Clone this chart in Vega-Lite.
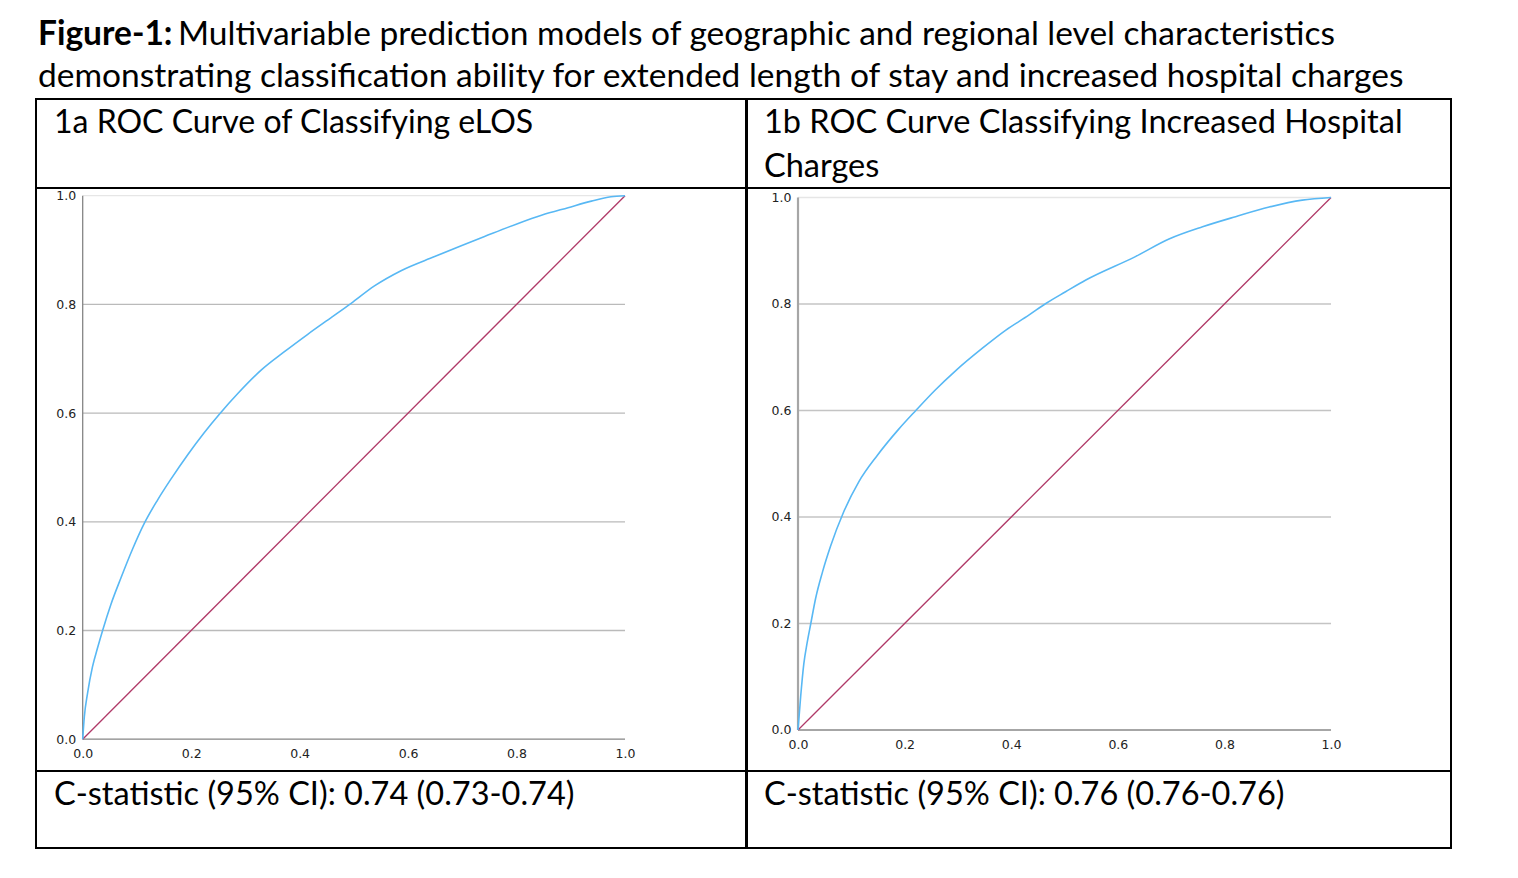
{
  "$schema": "https://vega.github.io/schema/vega-lite/v6.json",
  "background": "white",
  "padding": {"left": 35, "top": 0, "right": 0, "bottom": 0},
  "config": {
    "view": {"stroke": "black", "strokeWidth": 2},
    "text": {"font": "Lato", "fontSize": 32.5, "color": "black"}
  },
  "datasets": {
    "rocA": [
      {"fpr": 0, "tpr": 0}, {"fpr": 0.003, "tpr": 0.041}, {"fpr": 0.009, "tpr": 0.085}, {"fpr": 0.018, "tpr": 0.133},
      {"fpr": 0.028, "tpr": 0.17}, {"fpr": 0.037, "tpr": 0.201}, {"fpr": 0.052, "tpr": 0.248}, {"fpr": 0.071, "tpr": 0.298},
      {"fpr": 0.092, "tpr": 0.35}, {"fpr": 0.114, "tpr": 0.398}, {"fpr": 0.138, "tpr": 0.44}, {"fpr": 0.163, "tpr": 0.479},
      {"fpr": 0.194, "tpr": 0.524}, {"fpr": 0.224, "tpr": 0.564}, {"fpr": 0.252, "tpr": 0.598}, {"fpr": 0.286, "tpr": 0.636},
      {"fpr": 0.329, "tpr": 0.679}, {"fpr": 0.372, "tpr": 0.713}, {"fpr": 0.415, "tpr": 0.745}, {"fpr": 0.46, "tpr": 0.777},
      {"fpr": 0.495, "tpr": 0.802}, {"fpr": 0.538, "tpr": 0.834}, {"fpr": 0.587, "tpr": 0.862}, {"fpr": 0.649, "tpr": 0.888},
      {"fpr": 0.698, "tpr": 0.908}, {"fpr": 0.741, "tpr": 0.925}, {"fpr": 0.803, "tpr": 0.949}, {"fpr": 0.846, "tpr": 0.964},
      {"fpr": 0.895, "tpr": 0.978}, {"fpr": 0.938, "tpr": 0.99}, {"fpr": 0.974, "tpr": 0.998}, {"fpr": 1, "tpr": 1}
    ],
    "rocB": [
      {"fpr": 0, "tpr": 0}, {"fpr": 0.005, "tpr": 0.063}, {"fpr": 0.011, "tpr": 0.125}, {"fpr": 0.017, "tpr": 0.163},
      {"fpr": 0.024, "tpr": 0.2}, {"fpr": 0.033, "tpr": 0.247}, {"fpr": 0.046, "tpr": 0.297}, {"fpr": 0.061, "tpr": 0.345},
      {"fpr": 0.085, "tpr": 0.408}, {"fpr": 0.114, "tpr": 0.466}, {"fpr": 0.149, "tpr": 0.516}, {"fpr": 0.189, "tpr": 0.565},
      {"fpr": 0.221, "tpr": 0.6}, {"fpr": 0.258, "tpr": 0.639}, {"fpr": 0.296, "tpr": 0.675}, {"fpr": 0.346, "tpr": 0.717},
      {"fpr": 0.39, "tpr": 0.751}, {"fpr": 0.433, "tpr": 0.779}, {"fpr": 0.465, "tpr": 0.801}, {"fpr": 0.502, "tpr": 0.823},
      {"fpr": 0.54, "tpr": 0.845}, {"fpr": 0.633, "tpr": 0.889}, {"fpr": 0.696, "tpr": 0.922}, {"fpr": 0.759, "tpr": 0.945},
      {"fpr": 0.821, "tpr": 0.964}, {"fpr": 0.884, "tpr": 0.982}, {"fpr": 0.946, "tpr": 0.995}, {"fpr": 1, "tpr": 1}
    ],
    "diag": [{"fpr": 0, "tpr": 0}, {"fpr": 1, "tpr": 1}],
    "grid": [{"v": 0.2}, {"v": 0.4}, {"v": 0.6}, {"v": 0.8}, {"v": 1.0}],
    "one": [{"k": 1}]
  },
  "vconcat": [
    {
      "width": 1414,
      "height": 99,
      "view": {"stroke": null},
      "encoding": {
        "x": {"datum": 0, "type": "quantitative", "scale": {"domain": [0, 1]}, "axis": null},
        "y": {"datum": 1, "type": "quantitative", "scale": {"domain": [0, 1]}, "axis": null}
      },
      "layer": [
        {
          "data": {"values": [{"t": "Figure-1:"}]},
          "mark": {"type": "text", "align": "left", "baseline": "alphabetic", "fontWeight": "bold", "fontSize": 33.5, "dx": 2, "dy": 45},
          "encoding": {"text": {"field": "t"}}
        },
        {
          "data": {"values": [{"t": "Multivariable prediction models of geographic and regional level characteristics"}]},
          "mark": {"type": "text", "align": "left", "baseline": "alphabetic", "fontSize": 33.5, "dx": 142, "dy": 45},
          "encoding": {"text": {"field": "t"}}
        },
        {
          "data": {"values": [{"t": "demonstrating classification ability for extended length of stay and increased hospital charges"}]},
          "mark": {"type": "text", "align": "left", "baseline": "alphabetic", "fontSize": 33.5, "dx": 2, "dy": 87},
          "encoding": {"text": {"field": "t"}}
        }
      ]
    },
    {
      "hconcat": [
        {
          "vconcat": [
            {
              "width": 710,
              "height": 89,
              "data": {"values": [{"t": "1a ROC Curve of Classifying eLOS"}]},
              "mark": {"type": "text", "align": "left", "baseline": "alphabetic", "fontSize": 32, "dx": 18, "dy": 34},
              "encoding": {
                "text": {"field": "t"},
                "x": {"datum": 0, "type": "quantitative", "scale": {"domain": [0, 1]}, "axis": null},
                "y": {"datum": 1, "type": "quantitative", "scale": {"domain": [0, 1]}, "axis": null}
              }
            },
            {
              "width": 710,
              "height": 583,
              "layer": [
                {
                  "data": {"name": "grid"},
                  "mark": {"type": "rule", "strokeWidth": 1.3},
                  "encoding": {
                    "y": {"field": "v", "type": "quantitative", "scale": {"domain": [-0.0585, 1.01417], "nice": false, "zero": false},
                      "axis": {"orient": "left", "offset": -46.7, "values": [0, 0.2, 0.4, 0.6, 0.8, 1], "format": ".1f", "domain": false, "ticks": false, "tickSize": 0, "grid": false, "labelPadding": 7, "labelFont": "DejaVu Sans", "labelFontSize": 12.5, "labelColor": "#222", "title": null, "labelFlush": false, "labelOverlap": false}},
                    "x": {"datum": 0, "type": "quantitative", "scale": {"domain": [-0.0861, 1.2231], "nice": false, "zero": false},
                      "axis": {"orient": "bottom", "offset": -31.8, "values": [0, 0.2, 0.4, 0.6, 0.8, 1], "format": ".1f", "domain": false, "ticks": false, "tickSize": 0, "grid": false, "labelPadding": 8, "labelFont": "DejaVu Sans", "labelFontSize": 12.5, "labelColor": "#222", "title": null, "labelFlush": false, "labelOverlap": false}},
                    "x2": {"datum": 1},
                    "color": {"condition": {"test": "datum.v == 1", "value": "#e6e6e6"}, "value": "#bababa"}
                  }
                },
                {
                  "data": {"name": "one"},
                  "mark": {"type": "rule", "color": "#858585", "strokeWidth": 1.3},
                  "encoding": {
                    "x": {"datum": 0, "type": "quantitative"},
                    "y": {"datum": 0, "type": "quantitative"},
                    "y2": {"datum": 1}
                  }
                },
                {
                  "data": {"name": "one"},
                  "mark": {"type": "rule", "color": "#858585", "strokeWidth": 1.3},
                  "encoding": {
                    "x": {"datum": 0, "type": "quantitative"},
                    "x2": {"datum": 1},
                    "y": {"datum": 0, "type": "quantitative"}
                  }
                },
                {
                  "data": {"name": "diag"},
                  "mark": {"type": "line", "color": "#b03a68", "strokeWidth": 1.3},
                  "encoding": {
                    "x": {"field": "fpr", "type": "quantitative"},
                    "y": {"field": "tpr", "type": "quantitative"}
                  }
                },
                {
                  "data": {"name": "rocA"},
                  "mark": {"type": "line", "color": "#58b8f4", "strokeWidth": 1.6, "interpolate": "monotone"},
                  "encoding": {
                    "x": {"field": "fpr", "type": "quantitative"},
                    "y": {"field": "tpr", "type": "quantitative"}
                  }
                }
              ]
            },
            {
              "width": 710,
              "height": 77,
              "data": {"values": [{"t": "C-statistic (95% CI): 0.74 (0.73-0.74)"}]},
              "mark": {"type": "text", "align": "left", "baseline": "alphabetic", "dx": 18, "dy": 34},
              "encoding": {
                "text": {"field": "t"},
                "x": {"datum": 0, "type": "quantitative", "scale": {"domain": [0, 1]}, "axis": null},
                "y": {"datum": 1, "type": "quantitative", "scale": {"domain": [0, 1]}, "axis": null}
              }
            }
          ],
          "spacing": 0,
          "bounds": "flush"
        },
        {
          "vconcat": [
            {
              "width": 704,
              "height": 89,
              "data": {"values": [{"t": "1b ROC Curve Classifying Increased Hospital\nCharges"}]},
              "mark": {"type": "text", "align": "left", "baseline": "alphabetic", "lineBreak": "\n", "lineHeight": 44, "dx": 17, "dy": 34},
              "encoding": {
                "text": {"field": "t"},
                "x": {"datum": 0, "type": "quantitative", "scale": {"domain": [0, 1]}, "axis": null},
                "y": {"datum": 1, "type": "quantitative", "scale": {"domain": [0, 1]}, "axis": null}
              }
            },
            {
              "width": 704,
              "height": 583,
              "layer": [
                {
                  "data": {"name": "grid"},
                  "mark": {"type": "rule", "strokeWidth": 1.6},
                  "encoding": {
                    "y": {"field": "v", "type": "quantitative", "scale": {"domain": [-0.077, 1.01784], "nice": false, "zero": false},
                      "axis": {"orient": "left", "offset": -51, "values": [0, 0.2, 0.4, 0.6, 0.8, 1], "format": ".1f", "domain": false, "ticks": false, "tickSize": 0, "grid": false, "labelPadding": 7, "labelFont": "DejaVu Sans", "labelFontSize": 12.5, "labelColor": "#222", "title": null, "labelFlush": false, "labelOverlap": false}},
                    "x": {"datum": 0, "type": "quantitative", "scale": {"domain": [-0.0957, 1.2251], "nice": false, "zero": false},
                      "axis": {"orient": "bottom", "offset": -41, "values": [0, 0.2, 0.4, 0.6, 0.8, 1], "format": ".1f", "domain": false, "ticks": false, "tickSize": 0, "grid": false, "labelPadding": 8, "labelFont": "DejaVu Sans", "labelFontSize": 12.5, "labelColor": "#222", "title": null, "labelFlush": false, "labelOverlap": false}},
                    "x2": {"datum": 1},
                    "color": {"condition": {"test": "datum.v == 1", "value": "#e6e6e6"}, "value": "#c4c4c4"}
                  }
                },
                {
                  "data": {"name": "one"},
                  "mark": {"type": "rule", "color": "#a6a6a6", "strokeWidth": 2.2},
                  "encoding": {
                    "x": {"datum": 0, "type": "quantitative"},
                    "y": {"datum": 0, "type": "quantitative"},
                    "y2": {"datum": 1}
                  }
                },
                {
                  "data": {"name": "one"},
                  "mark": {"type": "rule", "color": "#a6a6a6", "strokeWidth": 2.2},
                  "encoding": {
                    "x": {"datum": 0, "type": "quantitative"},
                    "x2": {"datum": 1},
                    "y": {"datum": 0, "type": "quantitative"}
                  }
                },
                {
                  "data": {"name": "diag"},
                  "mark": {"type": "line", "color": "#b03a68", "strokeWidth": 1.3},
                  "encoding": {
                    "x": {"field": "fpr", "type": "quantitative"},
                    "y": {"field": "tpr", "type": "quantitative"}
                  }
                },
                {
                  "data": {"name": "rocB"},
                  "mark": {"type": "line", "color": "#58b8f4", "strokeWidth": 1.6, "interpolate": "monotone"},
                  "encoding": {
                    "x": {"field": "fpr", "type": "quantitative"},
                    "y": {"field": "tpr", "type": "quantitative"}
                  }
                }
              ]
            },
            {
              "width": 704,
              "height": 77,
              "data": {"values": [{"t": "C-statistic (95% CI): 0.76 (0.76-0.76)"}]},
              "mark": {"type": "text", "align": "left", "baseline": "alphabetic", "dx": 17, "dy": 34},
              "encoding": {
                "text": {"field": "t"},
                "x": {"datum": 0, "type": "quantitative", "scale": {"domain": [0, 1]}, "axis": null},
                "y": {"datum": 1, "type": "quantitative", "scale": {"domain": [0, 1]}, "axis": null}
              }
            }
          ],
          "spacing": 0,
          "bounds": "flush"
        }
      ],
      "spacing": -2
    }
  ],
  "spacing": 0,
  "bounds": "flush"
}
